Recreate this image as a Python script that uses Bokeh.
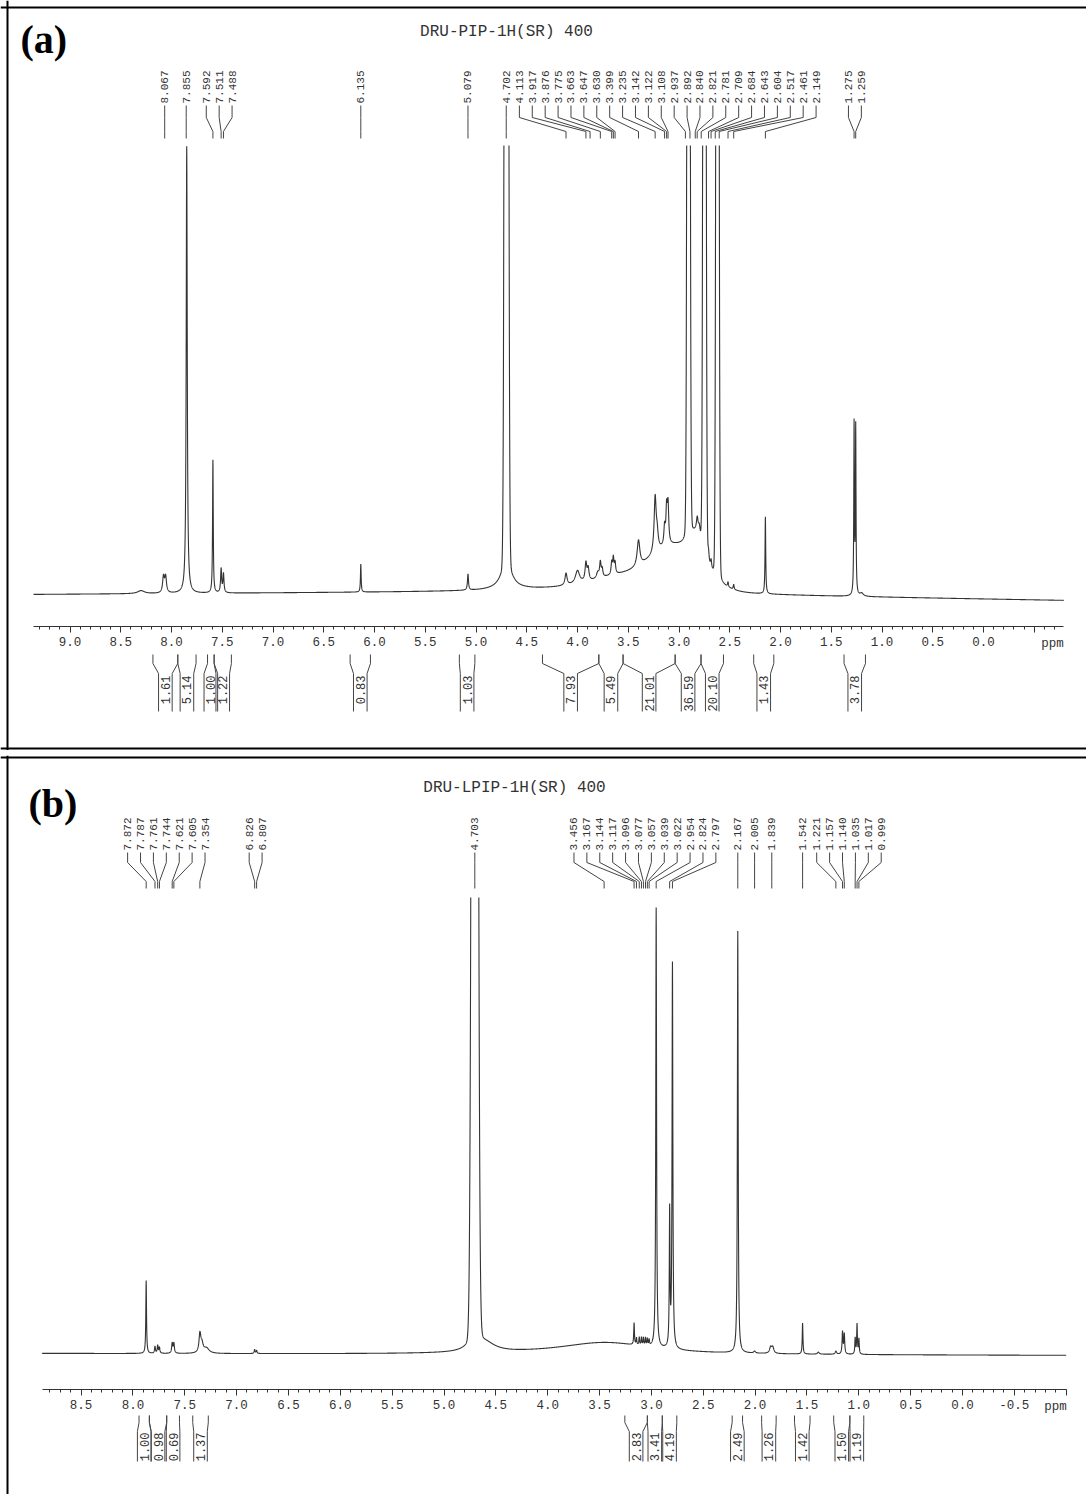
import numpy as np
from bokeh.plotting import figure
from bokeh.models import Range1d, LinearAxis, FixedTicker, PrintfTickFormatter, Span
from bokeh.layouts import column
from bokeh.embed import file_html
from bokeh.resources import INLINE
from bokeh.core.properties import value

MONO = "Liberation Mono"
SERIF = "Liberation Serif"

# ======================= Panel (a) : DRU-PIP =======================
A_TITLE = "DRU-PIP-1H(SR) 400"
A_TAG = "(a)"
A_PEAK_LABELS = ["8.067", "7.855", "7.592", "7.511", "7.488", "6.135", "5.079",
                 "4.702", "4.113", "3.917", "3.876", "3.775", "3.663", "3.647",
                 "3.630", "3.399", "3.235", "3.142", "3.122", "3.108", "2.937",
                 "2.892", "2.840", "2.821", "2.781", "2.709", "2.684", "2.643",
                 "2.604", "2.517", "2.461", "2.149", "1.275", "1.259"]
# spectrum peak table: position (ppm), height, half width (ppm), gaussian share
A_PK_PPM = [8.30, 8.079, 8.058, 7.850, 7.592, 7.511, 7.488, 6.135, 5.079, 4.700, 4.700,
            3.60, 3.05, 2.83, 4.113, 4.000, 3.917, 3.895, 3.800, 3.775, 3.757, 3.663,
            3.647, 3.630, 3.399, 3.235, 3.215, 3.142, 3.122, 3.108, 2.906, 2.906,
            2.820, 2.800, 2.749, 2.749, 2.709, 2.684, 2.621, 2.621, 2.517, 2.461,
            2.149, 1.275, 1.259, 1.200]
A_PK_H = [3, 16, 16, 447, 133, 24, 19, 28, 16, 3000, 30,
          16, 40, 28, 12, 13, 18, 12, 6, 15, 8, 12,
          16, 11, 26, 55, 15, 18, 35, 38, 2000, 40,
          15, 10, 2000, 40, 10, 8, 2000, 40, 5, 5,
          77, 170, 167, 3]
A_PK_W = [0.04, 0.010, 0.010, 0.006, 0.004, 0.006, 0.006, 0.004, 0.006, 0.015, 0.06,
          0.40, 0.28, 0.08, 0.012, 0.025, 0.010, 0.010, 0.015, 0.008, 0.008, 0.007,
          0.007, 0.007, 0.016, 0.012, 0.012, 0.008, 0.008, 0.008, 0.012, 0.02,
          0.010, 0.010, 0.012, 0.02, 0.006, 0.006, 0.012, 0.015, 0.005, 0.005,
          0.004, 0.0035, 0.0035, 0.02]
A_PK_G = [0, 0, 0, 0, 0, 0, 0, 0, 0, 1, 0,
          0, 1, 0, 0, 0, 0, 0, 0, 0, 0, 0,
          0, 0, 0, 0, 0, 0, 0, 0, 1, 0,
          0, 0, 1, 0, 0, 0, 1, 0, 0, 0,
          0, 0, 0, 0]
A_BASE_PPM = [9.36, 4.5, -0.79]
A_BASE_Y = [0.0, 3.0, -6.0]
A_INT_FROM = [8.183, 7.938, 7.645, 7.580, 6.240, 5.164, 4.345, 3.790, 3.551, 3.038, 2.783, 2.264, 1.374]
A_INT_TO = [7.938, 7.758, 7.580, 7.410, 6.040, 5.011, 3.790, 3.551, 3.038, 2.783, 2.562, 2.066, 1.163]
A_INT_TEXT = ["1.61", "5.14", "1.00", "1.22", "0.83", "1.03", "7.93", "5.49", "21.01",
              "36.59", "20.10", "1.43", "3.78"]
A_TICKS = [9.0, 8.5, 8.0, 7.5, 7.0, 6.5, 6.0, 5.5, 5.0, 4.5, 4.0, 3.5, 3.0, 2.5, 2.0,
           1.5, 1.0, 0.5, 0.0, -0.5]
A_TICK_TEXT = ["9.0", "8.5", "8.0", "7.5", "7.0", "6.5", "6.0", "5.5", "5.0", "4.5",
               "4.0", "3.5", "3.0", "2.5", "2.0", "1.5", "1.0", "0.5", "0.0", ""]

# ======================= Panel (b) : DRU-LPIP =======================
B_TITLE = "DRU-LPIP-1H(SR) 400"
B_TAG = "(b)"
B_PEAK_LABELS = ["7.872", "7.787", "7.761", "7.744", "7.621", "7.605", "7.354",
                 "6.826", "6.807", "4.703", "3.456", "3.167", "3.144", "3.117",
                 "3.096", "3.077", "3.057", "3.039", "3.022", "2.954", "2.824",
                 "2.797", "2.167", "2.005", "1.839", "1.542", "1.221", "1.157",
                 "1.140", "1.035", "1.017", "0.999"]
B_PK_PPM = [7.872, 7.787, 7.761, 7.744, 7.621, 7.605, 7.354, 7.335, 7.29, 6.826, 6.807,
            4.703, 4.703, 4.60, 3.45, 3.167, 3.144, 3.117, 3.096, 3.077, 3.057, 3.039,
            3.022, 2.954, 2.824, 2.797, 2.167, 2.005, 1.85, 1.83, 1.542, 1.39, 1.221,
            1.157, 1.140, 1.035, 1.017, 0.999]
B_PK_H = [73, 7, 8, 6, 10, 10, 18, 9, 5, 4, 3,
          3000, 20, 8, 12, 22, 7, 8, 8, 8, 8, 7,
          6, 440, 135, 385, 422, 2, 6, 6, 31, 2, 3,
          22, 20, 16, 30, 15]
B_PK_W = [0.004, 0.005, 0.005, 0.005, 0.006, 0.006, 0.010, 0.015, 0.03, 0.005, 0.005,
          0.0234, 0.058, 0.12, 0.55, 0.004, 0.004, 0.004, 0.004, 0.004, 0.004, 0.004,
          0.004, 0.0045, 0.004, 0.0045, 0.0045, 0.01, 0.012, 0.012, 0.004, 0.01, 0.008,
          0.005, 0.005, 0.004, 0.004, 0.004]
B_PK_G = [0, 0, 0, 0, 0, 0, 0, 0, 0, 0, 0,
          1, 0, 0, 0, 0, 0, 0, 0, 0, 0, 0,
          0, 0, 0, 0, 0, 0, 0, 0, 0, 0, 0,
          0, 0, 0, 0, 0]
B_BASE_PPM = [8.876, -1.0]
B_BASE_Y = [0.0, -2.0]
B_INT_FROM = [7.941, 7.841, 7.674, 7.423, 3.256, 3.039, 2.895, 2.221, 1.937, 1.620, 1.242, 1.086]
B_INT_TO = [7.841, 7.674, 7.551, 7.273, 3.039, 2.895, 2.755, 2.121, 1.797, 1.470, 1.086, 0.952]
B_INT_TEXT = ["1.00", "0.98", "0.69", "1.37", "2.83", "3.41", "4.19", "2.49", "1.26",
              "1.42", "1.50", "1.19"]
B_TICKS = [8.5, 8.0, 7.5, 7.0, 6.5, 6.0, 5.5, 5.0, 4.5, 4.0, 3.5, 3.0, 2.5, 2.0, 1.5,
           1.0, 0.5, 0.0, -0.5, -1.0]
B_TICK_TEXT = ["8.5", "8.0", "7.5", "7.0", "6.5", "6.0", "5.5", "5.0", "4.5", "4.0",
               "3.5", "3.0", "2.5", "2.0", "1.5", "1.0", "0.5", "0.0", "-0.5", ""]

# ======================= layout geometry (page pixels) =======================
W = 1086
GA = dict(x0=983.0, ppx=101.5, fig_top=0, height=750, base=594.0, axis=626.0,
          lo=-0.79, hi=9.36, clip=145.0, lab_bottom=103.0, lead=(105.0, 117.0, 131.0, 138.0),
          br=(654.0, 663.0, 673.0, 711.0), br_text=675.0, title=(506.0, 31.0),
          tag=(20.0, 39.0), ppm_x=1052.0, border=(7.0, 7.0, 748.0))
GB = dict(x0=962.0, ppx=103.7, fig_top=755, height=739, base=1353.0, axis=1389.0,
          lo=-1.0, hi=8.876, clip=897.0, lab_bottom=850.0, lead=(852.0, 862.0, 881.0, 888.0),
          br=(1415.0, 1422.0, 1431.0, 1461.0), br_text=1432.0, title=(514.0, 787.0),
          tag=(28.0, 803.0), ppm_x=1055.0, border=(7.0, 757.0, None))

LINE = "#333333"
INK = "#333333"
LEAD = "#444444"


def img_to_ppm(G, xi):
    return (G["x0"] - np.asarray(xi, dtype=float)) / G["ppx"]


def ppm_to_img(G, p):
    return G["x0"] - G["ppx"] * np.asarray(p, dtype=float)


def ydat(G, yi):
    return G["base"] - yi


def spread(px, gap):
    """Spread label positions so that neighbours are at least `gap` apart."""
    clusters = [[i] for i in range(len(px))]

    def pos(cl):
        c = float(np.mean([px[i] for i in cl]))
        n = len(cl)
        return [c + (k - (n - 1) / 2.0) * gap for k in range(n)]

    changed = True
    while changed:
        changed = False
        for j in range(len(clusters) - 1):
            a = pos(clusters[j])
            b = pos(clusters[j + 1])
            if b[0] - a[-1] < gap - 1e-6:
                clusters[j] = clusters[j] + clusters[j + 1]
                del clusters[j + 1]
                changed = True
                break
    out = []
    for cl in clusters:
        out += pos(cl)
    return out


def spectrum(G, ppm, h, w, g, bppm, by):
    x = np.arange(G["lo"], G["hi"], 0.001)
    y = np.interp(x, np.array(bppm[::-1]), np.array(by[::-1]))
    for c, hh, ww, gg in zip(ppm, h, w, g):
        d = (x - c) / ww
        y = y + hh * ((1 - gg) / (1 + d * d) + gg * np.exp(-np.log(2) * d * d))
    # vertical cut of the plot: peaks leave the plotting area with open tops
    clip = ydat(G, G["clip"])
    over = y >= clip
    y[over] = clip
    inner = over & np.roll(over, 1) & np.roll(over, -1)
    y[inner] = np.nan
    return x, y


def make_panel(G, title, tag, labels, pk, base, ints, ticks, tick_text):
    top = G["fig_top"]
    bot = G["fig_top"] + G["height"]
    p = figure(width=W, height=G["height"],
               x_range=Range1d(float(img_to_ppm(G, 0)), float(img_to_ppm(G, W))),
               y_range=Range1d(ydat(G, bot), ydat(G, top)),
               x_axis_type=None, y_axis_type=None, toolbar_location=None,
               output_backend="svg", min_border=0)
    p.outline_line_color = None
    p.background_fill_color = "white"
    p.border_fill_color = "white"

    # panel frame
    bl, bt, bb = G["border"]
    p.add_layout(Span(location=float(img_to_ppm(G, bl)), dimension="height",
                      line_color="black", line_width=2))
    p.add_layout(Span(location=ydat(G, bt), dimension="width",
                      line_color="black", line_width=2))
    if bb is not None:
        p.add_layout(Span(location=ydat(G, bb), dimension="width",
                          line_color="black", line_width=2))

    # spectrum
    x, y = spectrum(G, *pk, *base)
    p.line(x, y, line_color=LINE, line_width=1.1)

    # peak labels with leader lines
    lab_ppm = np.array([float(s) for s in labels])
    lab_px = spread(list(ppm_to_img(G, lab_ppm)), 12.9)
    lab_x = img_to_ppm(G, lab_px)
    l0, l1, l2, l3 = [ydat(G, v) for v in G["lead"]]
    xs = [[float(lx), float(lx), float(pp), float(pp)] for lx, pp in zip(lab_x, lab_ppm)]
    ys = [[l0, l1, l2, l3] for _ in labels]
    p.multi_line(xs, ys, line_color=LEAD, line_width=1)
    p.text(x=list(lab_x), y=[ydat(G, G["lab_bottom"])] * len(labels), text=labels,
           angle=np.pi / 2, text_align="left", text_baseline="middle",
           text_font=value(MONO), text_font_size="11px", text_color=INK)

    # integrals
    i_from, i_to, i_text = ints
    half = 6.8 / G["ppx"]
    b0, b1, b2, b3 = [ydat(G, v) for v in G["br"]]
    bxs, bys, cx = [], [], []
    for a_, b_ in zip(i_from, i_to):
        c = (a_ + b_) / 2.0
        cx.append(c)
        bxs.append([a_, a_, c + half, c + half])
        bys.append([b0, b1, b2, b3])
        bxs.append([b_, b_, c - half, c - half])
        bys.append([b0, b1, b2, b3])
    p.multi_line(bxs, bys, line_color=LEAD, line_width=1)
    p.text(x=cx, y=[ydat(G, G["br_text"])] * len(cx), text=i_text, angle=np.pi / 2,
           text_align="right", text_baseline="middle", text_font=value(MONO),
           text_font_size="12px", text_color=INK)

    # ppm axis placed inside the panel
    minor = [round(v / 10.0, 1) for v in range(int(np.ceil(G["lo"] * 10)), int(np.floor(G["hi"] * 10)) + 1)]
    ax = LinearAxis(fixed_location=ydat(G, G["axis"]), bounds=(G["lo"], G["hi"]),
                    ticker=FixedTicker(ticks=ticks, minor_ticks=minor),
                    formatter=PrintfTickFormatter(format="%.1f"),
                    major_label_overrides={t: s for t, s in zip(ticks, tick_text)})
    ax.axis_line_color = "#333333"
    ax.axis_line_width = 1
    ax.major_tick_line_color = "#333333"
    ax.minor_tick_line_color = "#333333"
    ax.major_tick_in = 0
    ax.major_tick_out = 6
    ax.minor_tick_in = 0
    ax.minor_tick_out = 3
    ax.major_label_standoff = 4
    ax.major_label_text_font = MONO
    ax.major_label_text_font_size = "12.5px"
    ax.major_label_text_color = INK
    p.add_layout(ax, "below")
    p.text(x=[float(img_to_ppm(G, G["ppm_x"]))], y=[ydat(G, G["axis"]) - 10], text=["ppm"],
           text_align="center", text_baseline="top", text_font=value(MONO),
           text_font_size="12.5px", text_color=INK)

    # title and panel tag
    p.text(x=[float(img_to_ppm(G, G["title"][0]))], y=[ydat(G, G["title"][1])], text=[title],
           text_align="center", text_baseline="middle", text_font=value(MONO),
           text_font_size="16px", text_color=INK)
    p.text(x=[float(img_to_ppm(G, G["tag"][0]))], y=[ydat(G, G["tag"][1])], text=[tag],
           text_align="left", text_baseline="middle", text_font=value(SERIF),
           text_font_style="bold", text_font_size="40px", text_color="black")
    return p


pa = make_panel(GA, A_TITLE, A_TAG, A_PEAK_LABELS,
                (A_PK_PPM, A_PK_H, A_PK_W, A_PK_G), (A_BASE_PPM, A_BASE_Y),
                (A_INT_FROM, A_INT_TO, A_INT_TEXT), A_TICKS, A_TICK_TEXT)
pb = make_panel(GB, B_TITLE, B_TAG, B_PEAK_LABELS,
                (B_PK_PPM, B_PK_H, B_PK_W, B_PK_G), (B_BASE_PPM, B_BASE_Y),
                (B_INT_FROM, B_INT_TO, B_INT_TEXT), B_TICKS, B_TICK_TEXT)

layout = column(pa, pb, spacing=5)
open("out.html", "w").write(file_html(layout, INLINE, "NMR spectra"))
